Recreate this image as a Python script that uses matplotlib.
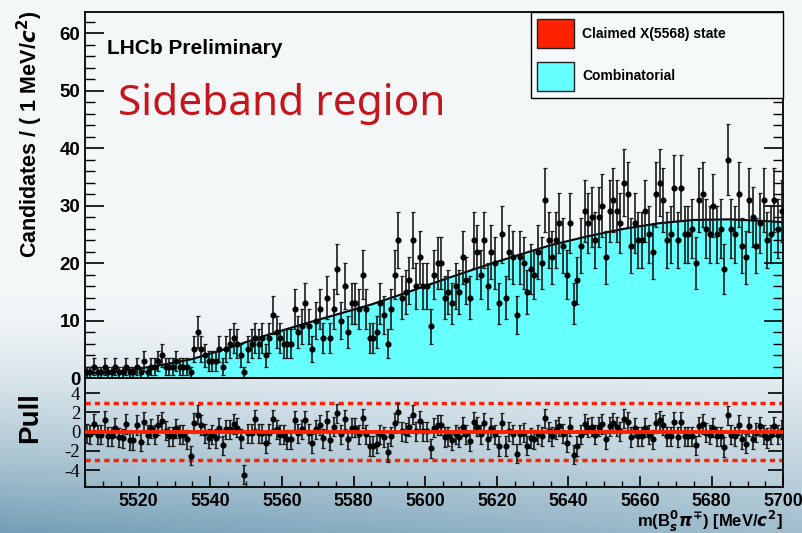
import numpy as np
import matplotlib.pyplot as plt
from matplotlib.patches import Patch
from matplotlib.ticker import MultipleLocator, FixedLocator

plt.rcParams['font.family'] = ['Liberation Sans', 'DejaVu Sans']
plt.rcParams['font.weight'] = 'bold'
plt.rcParams['axes.unicode_minus'] = False

# mass range, 1 MeV bins
mass_lo, mass_hi = 5505, 5700

counts = [1, 1, 2, 1, 1, 2, 1, 1, 2, 1,
          1, 2, 1, 1, 2, 1, 3, 1, 2, 2,
          3, 4, 2, 2, 2, 3, 2, 2, 2, 1,
          5, 8, 5, 4, 3, 3, 3, 5, 2, 5,
          6, 7, 6, 4, 1, 5, 6, 7, 6, 7,
          4, 7, 11, 8, 7, 6, 6, 6, 12, 8,
          9, 13, 9, 5, 10, 12, 7, 14, 7, 12,
          19, 10, 16, 8, 13, 13, 12, 18, 12, 7,
          7, 8, 13, 11, 6, 12, 18, 24, 14, 15,
          17, 24, 16, 21, 16, 16, 9, 18, 20, 20,
          14, 15, 13, 16, 15, 21, 17, 14, 24, 22,
          18, 24, 16, 22, 20, 13, 25, 14, 22, 21,
          11, 21, 20, 15, 19, 18, 22, 20, 31, 24,
          21, 24, 27, 23, 18, 27, 13, 17, 23, 29,
          27, 28, 24, 28, 30, 21, 29, 31, 29, 27,
          34, 32, 23, 27, 24, 24, 29, 25, 22, 32,
          34, 31, 24, 25, 33, 24, 33, 25, 25, 26,
          20, 31, 32, 26, 25, 30, 25, 26, 19, 38,
          26, 25, 32, 23, 21, 31, 28, 23, 27, 31,
          24, 25, 31, 26, 29]

pulls = [-0.2, -0.27, 0.8, -0.3, -0.3, 1.2, -0.5, -0.5, 0.4, -0.6,
         -0.7, 0.8, -0.9, -0.9, 0.7, -1.05, 1.05, -0.3, 0.35, -0.3,
         0.7, 1.1, 0.1, -0.5, -0.5, 0.35, -0.3, -0.3, -0.8, -2.5,
         0.9, 1.75, 0.7, -0.15, -0.7, -0.3, -0.7, 0.4, -1.4, 0.25,
         0.25, 0.8, 0.4, -0.7, -4.5, -0.15, -0.15, 1.3, -0.15, -0.15,
         -1.2, -0.15, 1.3, 0.25, -0.3, -0.3, -0.8, -0.8, 1.2, -0.15,
         0.25, 1.2, -0.15, -1.2, 0.25, 0.7, -0.7, 1.15, -0.9, 0.5,
         1.9, -0.27, 1.3, -0.8, 0.4, 0.4, -0.27, 1.4, -0.27, -1.5,
         -1.5, -1.25, -0.27, -0.55, -2.15, -0.5, 0.9, 2.0, 0.05, -0.1,
         0.5, 1.75, 0.05, 1.15, 0.05, 0.05, -1.75, 0.4, 0.7, 0.7,
         -0.55, -0.5, -0.9, -0.27, -0.55, 0.5, -0.27, -1.0, 1.05, 0.5,
         -0.27, 0.9, -0.8, 0.4, -0.27, -1.5, 0.9, -1.5, 0.05, -0.27,
         -2.3, -0.27, -0.1, -1.45, -0.65, -0.8, -0.27, -0.5, 1.4, 0.05,
         -0.5, 0.2, 0.55, -0.2, -1.15, 0.5, -2.4, -1.5, -0.3, 0.8,
         0.4, 0.5, -0.3, 0.5, 0.8, -0.8, 0.55, 0.9, 0.5, 0.05,
         1.35, 1.0, -0.55, 0.4, -0.5, -0.5, 0.4, -0.3, -0.8, 0.9,
         1.2, 0.7, -0.5, -0.5, 1.0, -0.55, 1.0, -0.5, -0.5, -0.5,
         -1.4, 0.55, 0.8, -0.1, -0.3, 0.4, -0.5, -0.5, -1.6, 1.7,
         -0.3, -0.5, 0.7, -0.8, -1.25, 0.55, -0.8, -0.1, 0.55, -0.3,
         -0.65, -0.3, 0.55, -0.3, 0.2]

# combinatorial fit curve, read every 10 MeV
fit_mass = [5505, 5515, 5525, 5535, 5545, 5555, 5565, 5575, 5585, 5595, 5605,
            5615, 5625, 5635, 5645, 5655, 5665, 5675, 5685, 5695, 5700]
fit_val = [0.7, 1.2, 2.1, 3.3, 5.2, 7.3, 9.2, 11.0, 12.8, 14.9, 17.1,
           19.2, 21.2, 23.1, 24.6, 25.9, 26.9, 27.5, 27.6, 27.3, 27.1]

legend_labels = ["Claimed X(5568) state", "Combinatorial"]

red = '#ff2200'
cyan = '#66ffff'

centers = np.arange(mass_lo, mass_hi) + 0.5
counts = np.array(counts, dtype=float)

fig = plt.figure(figsize=(8.02, 5.33), dpi=100)

# slide background gradient
bg = fig.add_axes([0, 0, 1, 1], zorder=-10)
yy = np.linspace(0, 1, 533)[:, None]
xx = np.linspace(0, 1, 802)[None, :]
t = np.clip((yy - 0.55) / 0.45, 0, 1) ** 1.5 * (1.0 - 0.35 * xx)
top = np.array([0.957, 0.969, 0.976])
bot = np.array([0.45, 0.62, 0.71])
bg.imshow(top + (bot - top) * t[..., None], aspect='auto', extent=[0, 1, 0, 1])
bg.axis('off')

# main panel
ax = fig.add_axes([0.106, 0.2908, 0.8707, 0.687])
ax.set_facecolor('none')
ax.fill_between(fit_mass, fit_val, color=cyan, lw=0, zorder=1)
ax.plot(fit_mass, fit_val, color='black', lw=1.5, zorder=2)
ax.errorbar(centers, counts, yerr=np.sqrt(counts), fmt='o', ms=3.4,
            color='black', ecolor='#1a1a1a', elinewidth=1.2,
            capsize=1.6, capthick=0.9, zorder=3)
ax.set_xlim(mass_lo, mass_hi)
ax.set_ylim(0, 63.7)
ax.yaxis.set_major_locator(MultipleLocator(10))
ax.yaxis.set_minor_locator(MultipleLocator(2))
ax.tick_params(axis='y', which='major', direction='in', length=14, width=1.2,
               right=True, labelsize=13.5)
ax.tick_params(axis='y', which='minor', direction='in', length=7, width=1.0,
               right=True)
ax.tick_params(axis='x', which='both', bottom=False, labelbottom=False)
for s in ax.spines.values():
    s.set_linewidth(1.3)

ax.text(0.0315, 0.901, "LHCb Preliminary", transform=ax.transAxes,
        fontsize=15, weight='bold', va='center', ha='left')
ax.text(0.047, 0.718, "Sideband region", transform=ax.transAxes,
        fontsize=30.5, weight='normal', color='#c4161c', va='baseline',
        ha='left', family=['Noto Sans', 'DejaVu Sans'])

handles = [Patch(facecolor=red, edgecolor='#222222', lw=1.0),
           Patch(facecolor=cyan, edgecolor='#222222', lw=1.0)]
leg = ax.legend(handles, legend_labels, loc='upper left',
                bbox_to_anchor=(0.638, 0.759, 0.362, 0.241), mode='expand',
                borderaxespad=0, fancybox=False, framealpha=1,
                edgecolor='black', facecolor='#f6f9fa', fontsize=10,
                handlelength=2.6, handleheight=2.9, labelspacing=0.95,
                handletextpad=0.6, borderpad=0.5)
leg.get_frame().set_linewidth(1.0)

# pull panel
pax = fig.add_axes([0.106, 0.0857, 0.8707, 0.2052])
pax.set_facecolor('none')
pax.errorbar(centers, pulls, yerr=1.0, fmt='o', ms=3.4, color='black',
             ecolor='#1a1a1a', elinewidth=1.2, capsize=1.6, capthick=0.9,
             zorder=3)
pax.axhline(0, color=red, lw=2.8, zorder=4)
pax.axhline(3, color=red, lw=2.5, ls=(0, (1.5, 1.2)), zorder=2)
pax.axhline(-3, color=red, lw=2.5, ls=(0, (1.5, 1.2)), zorder=2)
pax.set_xlim(mass_lo, mass_hi)
pax.set_ylim(-5.8, 5.6)
pax.yaxis.set_major_locator(FixedLocator([-4, -2, 0, 2, 4]))
pax.xaxis.set_major_locator(MultipleLocator(20))
pax.xaxis.set_minor_locator(MultipleLocator(5))
pax.tick_params(axis='y', direction='in', length=11, width=1.2, right=True,
                labelsize=13.5)
for lab in pax.get_yticklabels():
    lab.set_family('Liberation Serif')
    lab.set_weight('normal')
pax.tick_params(axis='x', which='major', direction='in', length=8, width=1.2,
                labelsize=12.8, pad=4)
pax.tick_params(axis='x', which='minor', direction='in', length=4, width=1.0)
for s in pax.spines.values():
    s.set_linewidth(1.3)

fig.text(30 / 802, 1 - 10 / 533, r"Candidates / ( 1 MeV/$c^{2}$)",
         rotation=90, ha='center', va='top', fontsize=15.5, weight='bold')
fig.text(30 / 802, 1 - 418 / 533, "Pull", rotation=90, ha='center',
         va='center', fontsize=20, weight='bold')
fig.text(783 / 802, 1 - 521 / 533, r"m(B$_{s}^{0}\pi^{\mp}$) [MeV/$c^{2}$]",
         ha='right', va='center', fontsize=12, weight='bold')

fig.savefig('out.png', dpi=100)
